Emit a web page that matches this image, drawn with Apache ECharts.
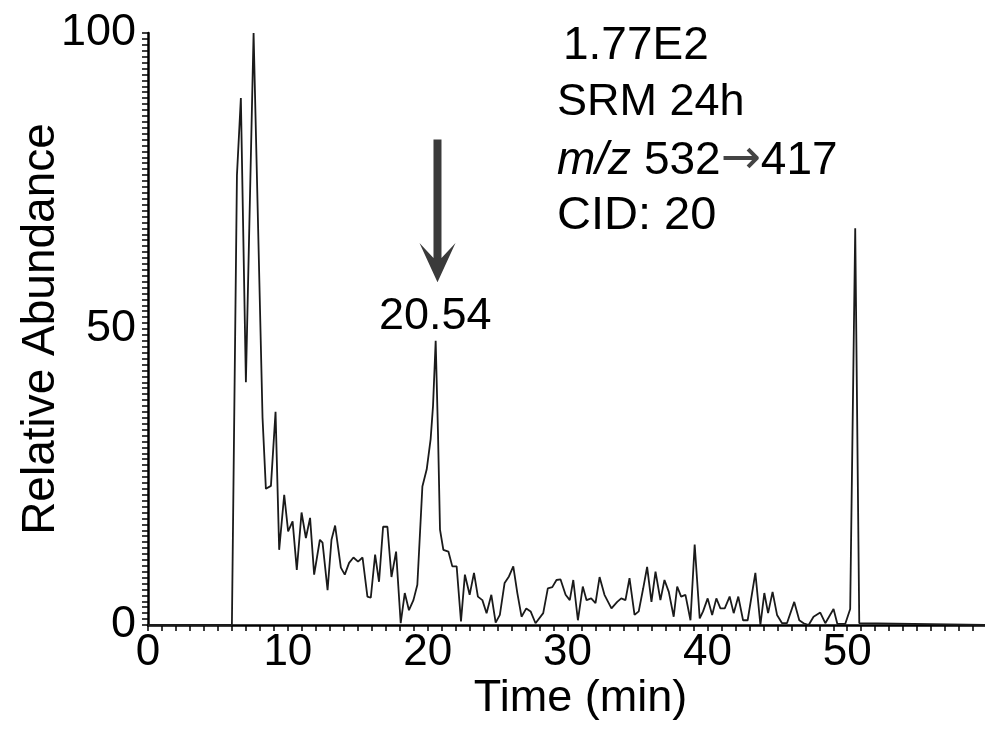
<!DOCTYPE html>
<html>
<head>
<meta charset="utf-8">
<script src="https://cdn.jsdelivr.net/npm/echarts@6/dist/echarts.min.js"></script>
<style>
html,body{margin:0;padding:0;background:#fff;}
#chart{width:985px;height:736px;}
</style>
</head>
<body>
<div id="chart"></div>
<script>
// Retention time (min)
const times = [0, 6.0, 6.05, 6.36, 6.64, 7.0, 7.55, 8.19, 8.43, 8.79, 9.12, 9.38, 9.74, 10.02, 10.34, 10.64, 10.98, 11.29, 11.59, 11.88,
  12.29, 12.48, 12.84, 13.12, 13.38, 13.79, 14.07, 14.38, 14.69, 15.02, 15.34, 15.69, 15.93, 16.24, 16.52, 16.81, 17.12, 17.41, 17.74,
  18.07, 18.36, 18.66, 18.98, 19.26, 19.62, 19.93, 20.21, 20.38, 20.57, 20.74, 20.88, 21.12, 21.48, 21.76, 22.07, 22.38, 22.66, 23.0,
  23.31, 23.59, 23.91, 24.21, 24.55, 24.86, 25.16, 25.5, 25.81, 26.12, 26.41, 26.71, 27.05, 27.36, 27.71, 28.26, 28.59, 28.91, 29.21,
  29.5, 29.86, 30.16, 30.41, 30.74, 31.09, 31.36, 31.69, 32.0, 32.29, 32.64, 33.14, 33.55, 33.84, 34.14, 34.43, 34.79, 35.09, 35.41,
  35.69, 36.0, 36.29, 36.64, 36.93, 37.24, 37.59, 37.84, 38.12, 38.43, 38.79, 39.09, 39.45, 39.69, 40.02, 40.34, 40.64, 40.93, 41.24,
  41.59, 41.88, 42.21, 42.55, 42.88, 43.43, 43.79, 44.07, 44.34, 44.66, 44.98, 45.34, 45.69, 46.21, 46.57, 46.88, 47.24, 47.59, 48.07,
  48.43, 49.02, 49.29, 49.86, 50.21, 50.57, 50.86, 50.93, 59.85];
// Relative abundance (%)
const abundance = [0, 0, 0, 76, 89, 41, 100, 35, 23, 23.5, 36, 12.7, 22, 15.8, 17.5, 9.3, 19, 14.7, 18.1, 8.5,
  14.4, 13.9, 5.9, 14.4, 16.8, 9.7, 8.5, 10.5, 11.4, 10.7, 11.4, 4.8, 4.6, 11.9, 7.3, 16.6, 16.6, 8.1, 12.4,
  0.3, 5.4, 2.5, 4.2, 6.8, 23.4, 26.3, 31.4, 37, 48, 32, 16.1, 12.7, 12.4, 9.9, 9.9, 0.6, 8.5, 5.1,
  8.8, 4.8, 4.2, 2, 5.1, 0.4, 1.7, 7.1, 8.2, 9.9, 5.4, 1.4, 2.8, 2.3, 0.3, 2, 6.2, 6.4, 7.6,
  7.7, 5.1, 4.2, 7.6, 0.8, 6.5, 4.2, 4.5, 3.7, 8.1, 5.1, 2.8, 3.9, 4.5, 4.2, 7.9, 1.7, 2.3, 6.2,
  9.8, 3.9, 9, 4.2, 7.6, 5.6, 1.4, 6.5, 4.8, 5.1, 0.8, 13.6, 1.1, 2.3, 4.5, 1.7, 4.5, 2.8, 2.8,
  4.8, 2, 4.8, 0.8, 0.8, 8.8, 0, 5.4, 2, 5.6, 1.7, 0.3, 0.3, 3.9, 0.8, 0.3, 0, 1.4, 2.1,
  0.3, 2.7, 0.2, 0.2, 2.7, 67, 0.3, 0, 0];

const xTickLabels = [0, 10, 20, 30, 40, 50];
const yTickLabels = [0, 50, 100];
const peakTime = 20.54;
const peakValue = 48;
const peakLabel = '20.54';
// arrow annotation spans abundance 82 (tail) to 57.9 (tip)
const arrowTime = 20.7;
const arrowTail = 82;
const arrowTip = 57.9;
const infoLines = ['1.77E2', 'SRM 24h', 'm/z 532\u2192417', 'CID: 20'];

const FONT = "'Liberation Sans', Arial, sans-serif";
const chart = echarts.init(document.getElementById('chart'));

const points = times.map((t, i) => [t, abundance[i]]);

chart.setOption({
  animation: false,
  backgroundColor: '#ffffff',
  grid: { left: 148, right: 0, top: 33, bottom: 111, containLabel: false, outerBoundsMode: 'none' },
  xAxis: {
    type: 'value', min: 0, max: 59.85, interval: 1,
    name: 'Time (min)', nameLocation: 'middle', nameGap: 51, nameMoveOverlap: false,
    nameTextStyle: { fontFamily: FONT, fontSize: 45, color: '#000', padding: [0, 0, 0, 28] },
    axisLine: { show: true, onZero: false, lineStyle: { color: '#000', width: 2.5 } },
    axisTick: { show: true, inside: false, length: 6, lineStyle: { color: '#000', width: 1.5 } },
    axisLabel: {
      fontFamily: FONT, fontSize: 44, color: '#000', margin: 6,
      showMaxLabel: false,
      formatter: v => (xTickLabels.indexOf(Math.round(v * 1000) / 1000) >= 0 ? String(v) : '')
    },
    splitLine: { show: false }
  },
  yAxis: {
    type: 'value', min: 0, max: 100, interval: 1,
    name: 'Relative Abundance', nameLocation: 'middle', nameGap: 84, nameMoveOverlap: false,
    nameTextStyle: { fontFamily: FONT, fontSize: 46, color: '#000' },
    axisLine: { show: true, lineStyle: { color: '#000', width: 2.5 } },
    axisTick: { show: true, inside: false, length: 6, lineStyle: { color: '#000', width: 1.5 } },
    axisLabel: {
      fontFamily: FONT, fontSize: 45, color: '#000', margin: 12,
      formatter: v => (yTickLabels.indexOf(Math.round(v)) >= 0 && Math.abs(v - Math.round(v)) < 1e-6 ? String(v) : '')
    },
    splitLine: { show: false }
  },
  series: [{
    type: 'line',
    data: points,
    showSymbol: false,
    symbol: 'none',
    lineStyle: { color: '#1a1a1a', width: 1.8 },
    markPoint: {
      silent: true,
      data: [
        {
          coord: [peakTime, peakValue],
          symbol: 'circle', symbolSize: 0,
          label: {
            show: true, position: 'top', distance: 2,
            fontFamily: FONT, fontSize: 45, color: '#000',
            formatter: peakLabel
          }
        },
        {
          coord: [arrowTime, (arrowTail + arrowTip) / 2],
          symbol: 'path://M14,0 L22,0 L22,118 L36,103 L18,142 L0,103 L14,118 Z',
          symbolSize: [36, (arrowTail - arrowTip) * 5.92],
          symbolKeepAspect: false,
          itemStyle: { color: '#3a3a3a' },
          label: { show: false }
        }
      ]
    }
  }],
  graphic: [
    { type: 'text', left: 563, top: 23, style: { text: infoLines[0], font: "46px 'Liberation Sans', Arial", fill: '#000' } },
    { type: 'text', left: 557, top: 80, style: { text: infoLines[1], font: "45px 'Liberation Sans', Arial", fill: '#000' } },
    { type: 'text', left: 557, top: 137, style: {
        text: '{i|m/z}{n| 532}{a|\u2192}{n|417}',
        rich: {
          i: { fontFamily: FONT, fontSize: 46, fontStyle: 'italic', fill: '#000' },
          n: { fontFamily: FONT, fontSize: 46, fill: '#000' },
          a: { fontFamily: "'DejaVu Sans', sans-serif", fontSize: 48, fill: '#444' }
        }
      } },
    { type: 'text', left: 557, top: 193, style: { text: infoLines[3], font: "47px 'Liberation Sans', Arial", fill: '#000' } }
  ]
});
</script>
</body>
</html>
